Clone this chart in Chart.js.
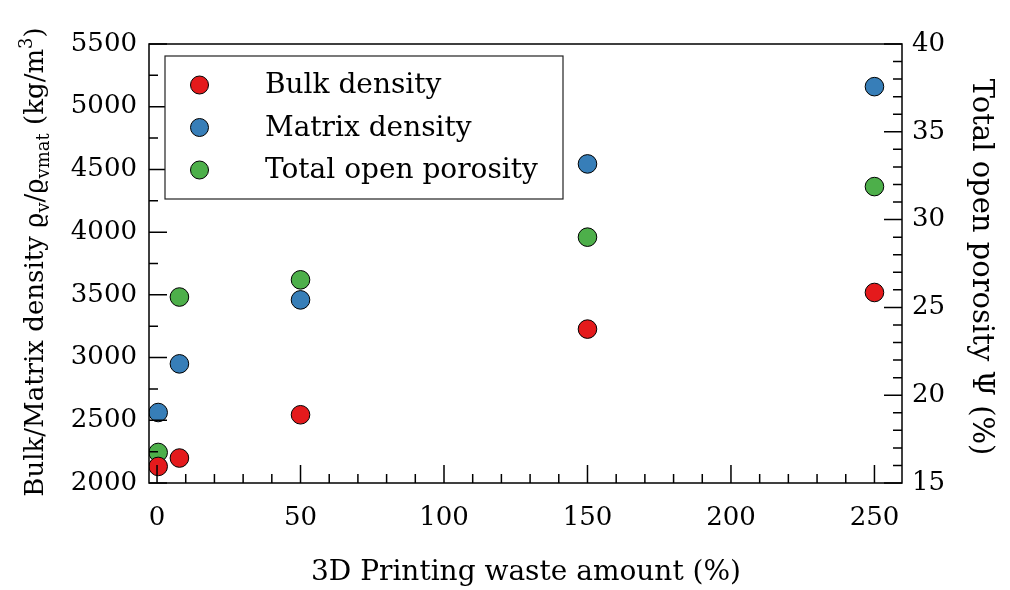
<!DOCTYPE html>
<html><head><meta charset="utf-8">
<script src="https://cdn.jsdelivr.net/npm/chart.js@4/dist/chart.umd.min.js"></script>
<style>html,body{margin:0;padding:0;background:#fff}#wrap{width:1010px;height:590px;position:relative}</style>
</head><body><div id="wrap"><canvas id="c" width="1010" height="590"></canvas></div>
<script>
// ---- data ----
const wasteAmount = [0.4, 7.8, 50, 150, 250];
const bulkDensity = [2132, 2199, 2544, 3227, 3519];
const matrixDensity = [2562, 2950, 3460, 4544, 5160];
const openPorosity = [16.74, 25.59, 26.57, 29.0, 31.88];
const seriesNames = ['Bulk density', 'Matrix density', 'Total open porosity'];
const xTicks = [0, 50, 100, 150, 200, 250];
const leftTicks = [2000, 2500, 3000, 3500, 4000, 4500, 5000, 5500];
const rightTicks = [15, 20, 25, 30, 35, 40];
const xTitle = '3D Printing waste amount (%)';
const rightTitle = 'Total open porosity \u03A8 (%)';
const leftTitleParts = [
  ['Bulk/Matrix density ', 'n'], ['\u03F1', 'n'], ['v', 'sub'], ['/\u03F1', 'n'],
  ['vmat', 'sub'], [' (kg/m', 'n'], ['3', 'sup'], [')', 'n']
];

const FONT = 'DejaVu Serif';
const colors = ['#e41a1c', '#377eb8', '#4daf4a'];

const pts = (ys) => wasteAmount.map((x, i) => ({x: x, y: ys[i]}));

const tickFont = {family: FONT, size: 26};
const plain = (v) => String(v);

function fixedTicks(arr) { return (s) => { s.ticks = arr.map(v => ({value: v})); }; }

const decor = {
  id: 'decor',
  afterDraw(chart) {
    const ctx = chart.ctx, a = chart.chartArea;
    const sx = chart.scales.x, sy = chart.scales.y, sy1 = chart.scales.y1;
    ctx.save();
    ctx.strokeStyle = '#000';
    ctx.lineWidth = 1.5;
    ctx.strokeRect(a.left, a.top, a.right - a.left, a.bottom - a.top);
    ctx.beginPath();
    // bottom ticks
    for (let v = 0; v <= sx.max; v += 10) {
      const px = sx.getPixelForValue(v);
      const L = (v % 50 === 0) ? 18 : 9;
      ctx.moveTo(px, a.bottom); ctx.lineTo(px, a.bottom - L);
    }
    // left ticks
    for (let v = sy.min; v <= sy.max; v += 250) {
      const py = sy.getPixelForValue(v);
      const L = (v % 500 === 0) ? 18 : 9;
      ctx.moveTo(a.left, py); ctx.lineTo(a.left + L, py);
    }
    // right ticks
    for (let v = sy1.min; v <= sy1.max; v += 1) {
      const py = sy1.getPixelForValue(v);
      const L = (v % 5 === 0) ? 18 : 9;
      ctx.moveTo(a.right, py); ctx.lineTo(a.right - L, py);
    }
    ctx.stroke();

    // legend box
    ctx.lineWidth = 1.2;
    ctx.strokeStyle = '#222';
    ctx.fillStyle = '#fff';
    ctx.fillRect(165, 56, 398, 143);
    ctx.strokeRect(165, 56, 398, 143);
    const ly = [85, 127.5, 170];
    chart.data.datasets.forEach((ds, i) => {
      ctx.beginPath();
      ctx.arc(199.5, ly[i], 9, 0, Math.PI * 2);
      ctx.fillStyle = ds.backgroundColor;
      ctx.fill();
      ctx.lineWidth = 1;
      ctx.strokeStyle = '#000';
      ctx.stroke();
      ctx.fillStyle = '#000';
      ctx.font = '28px "' + FONT + '"';
      ctx.textAlign = 'left';
      ctx.textBaseline = 'middle';
      ctx.fillText(ds.label, 265, ly[i] + 1);
    });

    // x title
    ctx.fillStyle = '#000';
    ctx.font = '28px "' + FONT + '"';
    ctx.textAlign = 'center';
    ctx.textBaseline = 'alphabetic';
    ctx.fillText(xTitle, 526, 580);

    // right title
    ctx.save();
    ctx.translate(973, 267);
    ctx.rotate(Math.PI / 2);
    ctx.textAlign = 'center';
    ctx.font = '29px "' + FONT + '"';
    ctx.fillText(rightTitle, 0, 0);
    ctx.restore();

    // left title with sub/superscripts
    ctx.save();
    ctx.translate(43, 262);
    ctx.rotate(-Math.PI / 2);
    ctx.textAlign = 'left';
    const fN = '26px "' + FONT + '"', fS = '18px "' + FONT + '"';
    let total = 0;
    leftTitleParts.forEach(([t, k]) => { ctx.font = k === 'n' ? fN : fS; total += ctx.measureText(t).width; });
    let x0 = -total / 2;
    leftTitleParts.forEach(([t, k]) => {
      ctx.font = k === 'n' ? fN : fS;
      const dy = k === 'sub' ? 6 : (k === 'sup' ? -11 : 0);
      ctx.fillText(t, x0, dy);
      x0 += ctx.measureText(t).width;
    });
    ctx.restore();
    ctx.restore();
  }
};

new Chart(document.getElementById('c'), {
  type: 'scatter',
  data: {
    datasets: [
      {label: seriesNames[0], data: pts(bulkDensity), yAxisID: 'y', backgroundColor: colors[0]},
      {label: seriesNames[1], data: pts(matrixDensity), yAxisID: 'y', backgroundColor: colors[1]},
      {label: seriesNames[2], data: pts(openPorosity), yAxisID: 'y1', backgroundColor: colors[2]}
    ].map(d => Object.assign(d, {borderColor: '#000', borderWidth: 1, pointRadius: 9.3, pointHoverRadius: 9.3}))
  },
  options: {
    responsive: false,
    animation: false,
    devicePixelRatio: 1,
    events: [],
    layout: {padding: {top: 44, left: 0, right: 0, bottom: 0}},
    plugins: {legend: {display: false}, tooltip: {enabled: false}},
    scales: {
      x: {
        type: 'linear', min: -2.8, max: 259.6,
        afterBuildTicks: fixedTicks(xTicks),
        afterFit: (s) => { s.height = 107; },
        grid: {display: false, drawTicks: false, tickLength: 0},
        border: {display: false},
        ticks: {font: tickFont, color: '#000', padding: 20, maxRotation: 0, autoSkip: false, callback: plain}
      },
      y: {
        type: 'linear', position: 'left', min: 2000, max: 5500,
        afterBuildTicks: fixedTicks(leftTicks),
        afterFit: (s) => { s.width = 149; },
        grid: {display: false, drawTicks: false, tickLength: 0},
        border: {display: false},
        ticks: {font: tickFont, color: '#000', padding: 12, autoSkip: false, callback: plain}
      },
      y1: {
        type: 'linear', position: 'right', min: 15, max: 40,
        afterBuildTicks: fixedTicks(rightTicks),
        afterFit: (s) => { s.width = 108; },
        grid: {display: false, drawTicks: false, tickLength: 0},
        border: {display: false},
        ticks: {font: tickFont, color: '#000', padding: 10, autoSkip: false, callback: plain}
      }
    }
  },
  plugins: [decor]
});
</script>
</body></html>
